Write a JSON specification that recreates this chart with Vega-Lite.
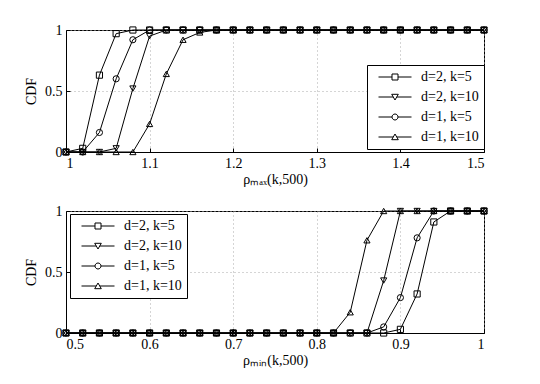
{
  "$schema": "https://vega.github.io/schema/vega-lite/v6.json",
  "padding": {"left": 24, "top": 22, "right": 5, "bottom": 5},
  "background": "white",
  "config": {
    "font": "Liberation Serif",
    "view": {"stroke": "black", "strokeWidth": 1},
    "axis": {
      "domainColor": "black", "tickColor": "black", "tickSize": -4, "labelPadding": 8,
      "labelFont": "Liberation Serif", "labelFontSize": 14, "labelColor": "black",
      "titleFont": "Liberation Serif", "titleFontSize": 14, "titleFontWeight": "normal", "titleColor": "black",
      "gridColor": "#aaaaaa", "gridDash": [1, 3], "gridWidth": 1
    },
    "legend": {
      "orient": "none", "title": null, "strokeColor": "black", "fillColor": "white",
      "padding": 5, "labelFont": "Liberation Serif", "labelFontSize": 14, "labelColor": "black",
      "symbolSize": 36, "symbolStrokeColor": "black", "symbolStrokeWidth": 1,
      "symbolOffset": 16, "labelOffset": 19, "rowPadding": 6, "cornerRadius": 0
    }
  },
  "datasets": {
    "top": [
      {"s":"d=2, k=5","x":1,"y":0},{"s":"d=2, k=5","x":1.02,"y":0.03},{"s":"d=2, k=5","x":1.04,"y":0.63},{"s":"d=2, k=5","x":1.06,"y":0.97},{"s":"d=2, k=5","x":1.08,"y":1},{"s":"d=2, k=5","x":1.1,"y":1},{"s":"d=2, k=5","x":1.12,"y":1},{"s":"d=2, k=5","x":1.14,"y":1},{"s":"d=2, k=5","x":1.16,"y":1},{"s":"d=2, k=5","x":1.18,"y":1},{"s":"d=2, k=5","x":1.2,"y":1},{"s":"d=2, k=5","x":1.22,"y":1},{"s":"d=2, k=5","x":1.24,"y":1},{"s":"d=2, k=5","x":1.26,"y":1},{"s":"d=2, k=5","x":1.28,"y":1},{"s":"d=2, k=5","x":1.3,"y":1},{"s":"d=2, k=5","x":1.32,"y":1},{"s":"d=2, k=5","x":1.34,"y":1},{"s":"d=2, k=5","x":1.36,"y":1},{"s":"d=2, k=5","x":1.38,"y":1},{"s":"d=2, k=5","x":1.4,"y":1},{"s":"d=2, k=5","x":1.42,"y":1},{"s":"d=2, k=5","x":1.44,"y":1},{"s":"d=2, k=5","x":1.46,"y":1},{"s":"d=2, k=5","x":1.48,"y":1},{"s":"d=2, k=5","x":1.5,"y":1},
      {"s":"d=2, k=10","x":1,"y":0},{"s":"d=2, k=10","x":1.02,"y":0},{"s":"d=2, k=10","x":1.04,"y":0},{"s":"d=2, k=10","x":1.06,"y":0.03},{"s":"d=2, k=10","x":1.08,"y":0.52},{"s":"d=2, k=10","x":1.1,"y":0.95},{"s":"d=2, k=10","x":1.12,"y":1},{"s":"d=2, k=10","x":1.14,"y":1},{"s":"d=2, k=10","x":1.16,"y":1},{"s":"d=2, k=10","x":1.18,"y":1},{"s":"d=2, k=10","x":1.2,"y":1},{"s":"d=2, k=10","x":1.22,"y":1},{"s":"d=2, k=10","x":1.24,"y":1},{"s":"d=2, k=10","x":1.26,"y":1},{"s":"d=2, k=10","x":1.28,"y":1},{"s":"d=2, k=10","x":1.3,"y":1},{"s":"d=2, k=10","x":1.32,"y":1},{"s":"d=2, k=10","x":1.34,"y":1},{"s":"d=2, k=10","x":1.36,"y":1},{"s":"d=2, k=10","x":1.38,"y":1},{"s":"d=2, k=10","x":1.4,"y":1},{"s":"d=2, k=10","x":1.42,"y":1},{"s":"d=2, k=10","x":1.44,"y":1},{"s":"d=2, k=10","x":1.46,"y":1},{"s":"d=2, k=10","x":1.48,"y":1},{"s":"d=2, k=10","x":1.5,"y":1},
      {"s":"d=1, k=5","x":1,"y":0},{"s":"d=1, k=5","x":1.02,"y":0},{"s":"d=1, k=5","x":1.04,"y":0.16},{"s":"d=1, k=5","x":1.06,"y":0.6},{"s":"d=1, k=5","x":1.08,"y":0.92},{"s":"d=1, k=5","x":1.1,"y":1},{"s":"d=1, k=5","x":1.12,"y":1},{"s":"d=1, k=5","x":1.14,"y":1},{"s":"d=1, k=5","x":1.16,"y":1},{"s":"d=1, k=5","x":1.18,"y":1},{"s":"d=1, k=5","x":1.2,"y":1},{"s":"d=1, k=5","x":1.22,"y":1},{"s":"d=1, k=5","x":1.24,"y":1},{"s":"d=1, k=5","x":1.26,"y":1},{"s":"d=1, k=5","x":1.28,"y":1},{"s":"d=1, k=5","x":1.3,"y":1},{"s":"d=1, k=5","x":1.32,"y":1},{"s":"d=1, k=5","x":1.34,"y":1},{"s":"d=1, k=5","x":1.36,"y":1},{"s":"d=1, k=5","x":1.38,"y":1},{"s":"d=1, k=5","x":1.4,"y":1},{"s":"d=1, k=5","x":1.42,"y":1},{"s":"d=1, k=5","x":1.44,"y":1},{"s":"d=1, k=5","x":1.46,"y":1},{"s":"d=1, k=5","x":1.48,"y":1},{"s":"d=1, k=5","x":1.5,"y":1},
      {"s":"d=1, k=10","x":1,"y":0},{"s":"d=1, k=10","x":1.02,"y":0},{"s":"d=1, k=10","x":1.04,"y":0},{"s":"d=1, k=10","x":1.06,"y":0},{"s":"d=1, k=10","x":1.08,"y":0},{"s":"d=1, k=10","x":1.1,"y":0.23},{"s":"d=1, k=10","x":1.12,"y":0.64},{"s":"d=1, k=10","x":1.14,"y":0.92},{"s":"d=1, k=10","x":1.16,"y":0.98},{"s":"d=1, k=10","x":1.18,"y":1},{"s":"d=1, k=10","x":1.2,"y":1},{"s":"d=1, k=10","x":1.22,"y":1},{"s":"d=1, k=10","x":1.24,"y":1},{"s":"d=1, k=10","x":1.26,"y":1},{"s":"d=1, k=10","x":1.28,"y":1},{"s":"d=1, k=10","x":1.3,"y":1},{"s":"d=1, k=10","x":1.32,"y":1},{"s":"d=1, k=10","x":1.34,"y":1},{"s":"d=1, k=10","x":1.36,"y":1},{"s":"d=1, k=10","x":1.38,"y":1},{"s":"d=1, k=10","x":1.4,"y":1},{"s":"d=1, k=10","x":1.42,"y":1},{"s":"d=1, k=10","x":1.44,"y":1},{"s":"d=1, k=10","x":1.46,"y":1},{"s":"d=1, k=10","x":1.48,"y":1},{"s":"d=1, k=10","x":1.5,"y":1}
    ],
    "bot": [
      {"s":"d=2, k=5","x":0.5,"y":0},{"s":"d=2, k=5","x":0.52,"y":0},{"s":"d=2, k=5","x":0.54,"y":0},{"s":"d=2, k=5","x":0.56,"y":0},{"s":"d=2, k=5","x":0.58,"y":0},{"s":"d=2, k=5","x":0.6,"y":0},{"s":"d=2, k=5","x":0.62,"y":0},{"s":"d=2, k=5","x":0.64,"y":0},{"s":"d=2, k=5","x":0.66,"y":0},{"s":"d=2, k=5","x":0.68,"y":0},{"s":"d=2, k=5","x":0.7,"y":0},{"s":"d=2, k=5","x":0.72,"y":0},{"s":"d=2, k=5","x":0.74,"y":0},{"s":"d=2, k=5","x":0.76,"y":0},{"s":"d=2, k=5","x":0.78,"y":0},{"s":"d=2, k=5","x":0.8,"y":0},{"s":"d=2, k=5","x":0.82,"y":0},{"s":"d=2, k=5","x":0.84,"y":0},{"s":"d=2, k=5","x":0.86,"y":0},{"s":"d=2, k=5","x":0.88,"y":0},{"s":"d=2, k=5","x":0.9,"y":0.03},{"s":"d=2, k=5","x":0.92,"y":0.32},{"s":"d=2, k=5","x":0.94,"y":0.91},{"s":"d=2, k=5","x":0.96,"y":1},{"s":"d=2, k=5","x":0.98,"y":1},{"s":"d=2, k=5","x":1,"y":1},
      {"s":"d=2, k=10","x":0.5,"y":0},{"s":"d=2, k=10","x":0.52,"y":0},{"s":"d=2, k=10","x":0.54,"y":0},{"s":"d=2, k=10","x":0.56,"y":0},{"s":"d=2, k=10","x":0.58,"y":0},{"s":"d=2, k=10","x":0.6,"y":0},{"s":"d=2, k=10","x":0.62,"y":0},{"s":"d=2, k=10","x":0.64,"y":0},{"s":"d=2, k=10","x":0.66,"y":0},{"s":"d=2, k=10","x":0.68,"y":0},{"s":"d=2, k=10","x":0.7,"y":0},{"s":"d=2, k=10","x":0.72,"y":0},{"s":"d=2, k=10","x":0.74,"y":0},{"s":"d=2, k=10","x":0.76,"y":0},{"s":"d=2, k=10","x":0.78,"y":0},{"s":"d=2, k=10","x":0.8,"y":0},{"s":"d=2, k=10","x":0.82,"y":0},{"s":"d=2, k=10","x":0.84,"y":0},{"s":"d=2, k=10","x":0.86,"y":0},{"s":"d=2, k=10","x":0.88,"y":0.43},{"s":"d=2, k=10","x":0.9,"y":1},{"s":"d=2, k=10","x":0.92,"y":1},{"s":"d=2, k=10","x":0.94,"y":1},{"s":"d=2, k=10","x":0.96,"y":1},{"s":"d=2, k=10","x":0.98,"y":1},{"s":"d=2, k=10","x":1,"y":1},
      {"s":"d=1, k=5","x":0.5,"y":0},{"s":"d=1, k=5","x":0.52,"y":0},{"s":"d=1, k=5","x":0.54,"y":0},{"s":"d=1, k=5","x":0.56,"y":0},{"s":"d=1, k=5","x":0.58,"y":0},{"s":"d=1, k=5","x":0.6,"y":0},{"s":"d=1, k=5","x":0.62,"y":0},{"s":"d=1, k=5","x":0.64,"y":0},{"s":"d=1, k=5","x":0.66,"y":0},{"s":"d=1, k=5","x":0.68,"y":0},{"s":"d=1, k=5","x":0.7,"y":0},{"s":"d=1, k=5","x":0.72,"y":0},{"s":"d=1, k=5","x":0.74,"y":0},{"s":"d=1, k=5","x":0.76,"y":0},{"s":"d=1, k=5","x":0.78,"y":0},{"s":"d=1, k=5","x":0.8,"y":0},{"s":"d=1, k=5","x":0.82,"y":0},{"s":"d=1, k=5","x":0.84,"y":0},{"s":"d=1, k=5","x":0.86,"y":0},{"s":"d=1, k=5","x":0.88,"y":0.05},{"s":"d=1, k=5","x":0.9,"y":0.29},{"s":"d=1, k=5","x":0.92,"y":0.78},{"s":"d=1, k=5","x":0.94,"y":1},{"s":"d=1, k=5","x":0.96,"y":1},{"s":"d=1, k=5","x":0.98,"y":1},{"s":"d=1, k=5","x":1,"y":1},
      {"s":"d=1, k=10","x":0.5,"y":0},{"s":"d=1, k=10","x":0.52,"y":0},{"s":"d=1, k=10","x":0.54,"y":0},{"s":"d=1, k=10","x":0.56,"y":0},{"s":"d=1, k=10","x":0.58,"y":0},{"s":"d=1, k=10","x":0.6,"y":0},{"s":"d=1, k=10","x":0.62,"y":0},{"s":"d=1, k=10","x":0.64,"y":0},{"s":"d=1, k=10","x":0.66,"y":0},{"s":"d=1, k=10","x":0.68,"y":0},{"s":"d=1, k=10","x":0.7,"y":0},{"s":"d=1, k=10","x":0.72,"y":0},{"s":"d=1, k=10","x":0.74,"y":0},{"s":"d=1, k=10","x":0.76,"y":0},{"s":"d=1, k=10","x":0.78,"y":0},{"s":"d=1, k=10","x":0.8,"y":0},{"s":"d=1, k=10","x":0.82,"y":0},{"s":"d=1, k=10","x":0.84,"y":0.17},{"s":"d=1, k=10","x":0.86,"y":0.76},{"s":"d=1, k=10","x":0.88,"y":1},{"s":"d=1, k=10","x":0.9,"y":1},{"s":"d=1, k=10","x":0.92,"y":1},{"s":"d=1, k=10","x":0.94,"y":1},{"s":"d=1, k=10","x":0.96,"y":1},{"s":"d=1, k=10","x":0.98,"y":1},{"s":"d=1, k=10","x":1,"y":1}
    ]
  },
  "spacing": 16,
  "resolve": {"scale": {"x": "independent"}},
  "vconcat": [
    {
      "width": 418, "height": 122,
      "data": {"name": "top"},
      "resolve": {"scale": {"shape": "independent"}},
      "layer": [
        {
          "mark": {"type": "line", "color": "black", "strokeWidth": 1},
          "encoding": {
            "x": {"field": "x", "type": "quantitative", "scale": {"domain": [1, 1.5], "nice": false},
                  "axis": {"values": [1, 1.1, 1.2, 1.3, 1.4, 1.5], "format": "~g", "title": "ρₘₐₓ(k,500)", "titlePadding": 2}},
            "y": {"field": "y", "type": "quantitative", "scale": {"domain": [0, 1], "nice": false},
                  "axis": {"values": [0, 0.5, 1], "format": "~g", "title": "CDF", "titlePadding": 6}},
            "detail": {"field": "s"}
          }
        },
        {
          "mark": {"type": "point", "filled": false, "color": "black", "strokeWidth": 1, "opacity": 1, "size": 38},
          "encoding": {
            "x": {"field": "x", "type": "quantitative"},
            "y": {"field": "y", "type": "quantitative"},
            "shape": {"field": "s", "type": "nominal",
              "scale": {"domain": ["d=2, k=5", "d=2, k=10", "d=1, k=5", "d=1, k=10"], "range": ["square", "triangle-down", "circle", "triangle-up"]},
              "legend": null}
          }
        },
        {
          "transform": [{"filter": "false"}],
          "mark": {"type": "point", "filled": false, "color": "black", "strokeWidth": 1, "opacity": 1},
          "encoding": {
            "x": {"field": "x", "type": "quantitative"},
            "y": {"field": "y", "type": "quantitative"},
            "shape": {"field": "s", "type": "nominal",
              "scale": {"domain": ["d=2, k=5", "d=2, k=10", "d=1, k=5", "d=1, k=10"],
                        "range": ["M-5.5,0H-1M1,0H5.5M-1,-1H1V1H-1Z", "M-5.5,0H-0.6M0.6,0H5.5M-1.1,-0.9H1.1L0,1Z", "M-5.5,0H-1M1,0H5.5M1,0A1,1 0 1,1 -1,0A1,1 0 1,1 1,0", "M-5.5,0H-0.6M0.6,0H5.5M-1.1,0.9H1.1L0,-1Z"]},
              "legend": {"legendX": 301, "legendY": 35}}
          }
        }
      ]
    },
    {
      "width": 418, "height": 122,
      "data": {"name": "bot"},
      "resolve": {"scale": {"shape": "independent"}},
      "layer": [
        {
          "mark": {"type": "line", "color": "black", "strokeWidth": 1},
          "encoding": {
            "x": {"field": "x", "type": "quantitative", "scale": {"domain": [0.5, 1], "nice": false},
                  "axis": {"values": [0.5, 0.6, 0.7, 0.8, 0.9, 1], "format": "~g", "title": "ρₘᵢₙ(k,500)", "titlePadding": 2}},
            "y": {"field": "y", "type": "quantitative", "scale": {"domain": [0, 1], "nice": false},
                  "axis": {"values": [0, 0.5, 1], "format": "~g", "title": "CDF", "titlePadding": 6}},
            "detail": {"field": "s"}
          }
        },
        {
          "mark": {"type": "point", "filled": false, "color": "black", "strokeWidth": 1, "opacity": 1, "size": 38},
          "encoding": {
            "x": {"field": "x", "type": "quantitative"},
            "y": {"field": "y", "type": "quantitative"},
            "shape": {"field": "s", "type": "nominal",
              "scale": {"domain": ["d=2, k=5", "d=2, k=10", "d=1, k=5", "d=1, k=10"], "range": ["square", "triangle-down", "circle", "triangle-up"]},
              "legend": null}
          }
        },
        {
          "transform": [{"filter": "false"}],
          "mark": {"type": "point", "filled": false, "color": "black", "strokeWidth": 1, "opacity": 1},
          "encoding": {
            "x": {"field": "x", "type": "quantitative"},
            "y": {"field": "y", "type": "quantitative"},
            "shape": {"field": "s", "type": "nominal",
              "scale": {"domain": ["d=2, k=5", "d=2, k=10", "d=1, k=5", "d=1, k=10"],
                        "range": ["M-5.5,0H-1M1,0H5.5M-1,-1H1V1H-1Z", "M-5.5,0H-0.6M0.6,0H5.5M-1.1,-0.9H1.1L0,1Z", "M-5.5,0H-1M1,0H5.5M1,0A1,1 0 1,1 -1,0A1,1 0 1,1 1,0", "M-5.5,0H-0.6M0.6,0H5.5M-1.1,0.9H1.1L0,-1Z"]},
              "legend": {"legendX": 4, "legendY": 3}}
          }
        }
      ]
    }
  ]
}
